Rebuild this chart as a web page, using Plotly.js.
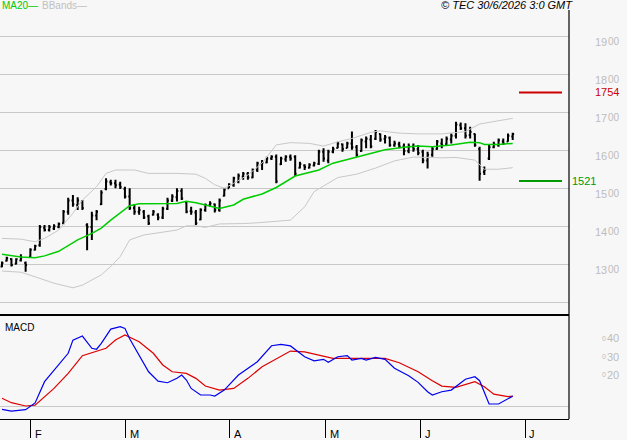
<!DOCTYPE html>
<html><head><meta charset="utf-8">
<script src="https://cdn.plot.ly/plotly-3.0.1.min.js"></script>
<style>html,body{margin:0;padding:0;background:#f7f7f7;}#chart{width:627px;height:440px;}</style>
</head><body><div id="chart"></div>
<script>
// ---- OHLC data (one bar per trading day, index 0..108) ----
var highs = [1309,1322,1318,1318,1328,1309,1344,1353,1405,1405,1405,1407,1412,1445,1477,1484,1478,1471,1410,1440,1445,1497,1528,1524,1524,1519,1506,1502,1460,1453,1445,1432,1445,1436,1453,1477,1486,1502,1502,1467,1453,1445,1449,1462,1468,1462,1475,1502,1515,1532,1541,1545,1545,1554,1572,1576,1585,1589,1591,1585,1589,1591,1589,1572,1565,1568,1572,1603,1607,1603,1611,1624,1620,1624,1651,1616,1633,1638,1642,1655,1646,1642,1638,1627,1624,1620,1620,1620,1616,1603,1598,1611,1629,1633,1638,1646,1677,1675,1673,1664,1646,1611,1559,1616,1624,1633,1633,1646,1648];
var lows  = [1294,1309,1296,1301,1309,1282,1319,1338,1348,1388,1388,1392,1397,1407,1432,1453,1445,1445,1339,1366,1418,1458,1497,1509,1502,1500,1475,1445,1432,1432,1421,1405,1430,1418,1421,1445,1466,1467,1471,1436,1432,1405,1418,1440,1453,1438,1440,1480,1502,1506,1515,1524,1524,1528,1545,1550,1568,1576,1515,1563,1572,1574,1534,1554,1550,1554,1559,1563,1572,1568,1594,1607,1598,1607,1603,1585,1598,1607,1607,1629,1624,1620,1611,1611,1607,1589,1594,1598,1589,1568,1554,1585,1603,1607,1616,1620,1633,1655,1633,1633,1611,1522,1537,1576,1607,1611,1616,1624,1629];
var opens = [1296,1311,1316,1303,1312,1305,1322,1340,1352,1398,1392,1396,1400,1410,1440,1470,1458,1468,1405,1400,1430,1460,1500,1518,1515,1512,1500,1480,1450,1440,1440,1428,1432,1432,1425,1448,1470,1478,1495,1465,1442,1438,1420,1445,1458,1460,1445,1482,1502,1510,1520,1532,1540,1530,1550,1565,1570,1580,1585,1565,1578,1585,1585,1556,1562,1556,1562,1566,1598,1575,1598,1608,1618,1608,1620,1610,1600,1625,1630,1632,1645,1632,1635,1615,1618,1612,1600,1612,1605,1598,1575,1590,1605,1620,1618,1630,1640,1668,1660,1642,1645,1605,1545,1580,1610,1615,1625,1625,1638];
var closes= [1305,1318,1300,1315,1320,1300,1340,1350,1400,1392,1400,1402,1408,1440,1470,1460,1470,1450,1400,1430,1440,1490,1520,1515,1510,1505,1480,1450,1440,1445,1425,1410,1440,1425,1448,1470,1480,1495,1475,1440,1440,1410,1445,1458,1462,1445,1470,1498,1512,1528,1535,1540,1530,1550,1568,1570,1580,1585,1520,1580,1585,1580,1540,1566,1558,1564,1568,1598,1580,1598,1605,1620,1605,1620,1610,1590,1628,1632,1612,1650,1630,1636,1615,1620,1612,1600,1612,1605,1595,1575,1590,1605,1625,1615,1632,1640,1670,1660,1640,1650,1615,1540,1550,1610,1618,1628,1620,1640,1645];

// ---- Moving average 20 (sampled, bar index / value) ----
var maIdx = [0,2,4,7,9,12,14,16,19,21,23,25,27,29,32,37,39,41,43,46,49,51,55,58,62,67,70,74,78,81,85,88,91,95,99,101,102,105,108];
var maVal = [1328,1324,1321,1319,1324,1336,1350,1366,1383,1397,1418,1436,1456,1461,1462,1462,1468,1464,1458,1449,1458,1473,1487,1504,1534,1550,1568,1581,1594,1603,1610,1613,1611,1616,1623,1622,1617,1617,1620];

// ---- Bollinger bands ----
var upIdx = [0,4,7,9,12,15,17,20,22,24,28,31,37,41,43,45,47,49,52,55,58,61,65,68,71,74,78,80,84,88,93,95,98,101,105,108];
var upVal = [1370,1368,1361,1370,1392,1436,1471,1506,1541,1550,1550,1541,1541,1539,1528,1511,1502,1515,1537,1568,1616,1622,1620,1613,1624,1633,1649,1653,1647,1645,1645,1647,1651,1671,1680,1686];
var loIdx = [0,4,7,11,15,17,21,23,25,27,30,37,39,41,43,46,51,54,61,64,66,69,71,75,79,83,87,93,96,100,102,105,108];
var loVal = [1284,1281,1269,1252,1240,1247,1274,1296,1322,1366,1379,1392,1403,1403,1399,1408,1409,1411,1418,1453,1493,1515,1530,1539,1555,1574,1584,1582,1583,1576,1552,1552,1556];

// ---- MACD ----
var macdIdx = [0,2,5,7,9,12,14,15,17,19,20,21,23,25,26,27,29,31,33,35,37,38,39,40,42,44,45,47,50,54,57,59,61,64,66,68,69,71,73,74,76,77,79,81,83,86,88,90,91,93,95,98,100,101,103,105,108];
var macdVal = [-0.015,-0.025,-0.017,0.02,0.136,0.227,0.291,0.363,0.385,0.318,0.313,0.345,0.423,0.436,0.427,0.37,0.281,0.19,0.139,0.13,0.154,0.172,0.145,0.099,0.063,0.063,0.057,0.09,0.172,0.245,0.332,0.34,0.331,0.272,0.25,0.258,0.242,0.272,0.278,0.254,0.263,0.254,0.269,0.258,0.209,0.168,0.132,0.081,0.063,0.081,0.09,0.149,0.163,0.141,0.014,0.014,0.057];
var sigIdx = [0,2,5,7,11,14,17,19,22,24,26,29,32,34,36,39,41,43,46,49,52,55,59,61,64,67,70,74,81,84,88,91,93,96,100,102,104,107,108];
var sigVal = [0.045,0.021,0.003,0.008,0.099,0.181,0.278,0.294,0.318,0.363,0.391,0.354,0.291,0.227,0.19,0.181,0.154,0.112,0.09,0.099,0.154,0.217,0.272,0.303,0.299,0.281,0.263,0.263,0.263,0.239,0.19,0.141,0.112,0.105,0.136,0.108,0.068,0.054,0.057];

// ---- Axis labels / levels ----
var monthIdx = [6.1,26.2,48.2,68.5,88.6,110.6];
var monthLabels = ['F','M','A','M','J','J'];
var priceTicks = [1200,1300,1400,1500,1600,1700,1800,1900];
var priceLabels = [1300,1400,1500,1600,1700,1800,1900];
var macdLabels = [0.40,0.30,0.20];
var resistance = 1754, support = 1521;

var barX = highs.map(function(_, i){ return i; });
var FONT = 'Liberation Sans, Arial, sans-serif';
var W = 569, H = 409;
function py(pix){ return (419 - pix) / H; }

var traces = [
  {type:'scatter', mode:'lines', x:upIdx, y:upVal, line:{color:'#c8c8c8', width:1}, hoverinfo:'skip'},
  {type:'scatter', mode:'lines', x:loIdx, y:loVal, line:{color:'#c8c8c8', width:1}, hoverinfo:'skip'},
  {type:'ohlc', x:barX, open:opens, high:highs, low:lows, close:closes, tickwidth:0.3,
   increasing:{line:{color:'#000000', width:2}}, decreasing:{line:{color:'#000000', width:2}}},
  {type:'scatter', mode:'lines', x:maIdx, y:maVal, line:{color:'#00cc00', width:1.5}},
  {type:'scatter', mode:'lines', x:sigIdx, y:sigVal, yaxis:'y2', line:{color:'#dd0000', width:1.2}},
  {type:'scatter', mode:'lines', x:macdIdx, y:macdVal, yaxis:'y2', line:{color:'#0000ee', width:1.2}}
];

var sepY = (419 - 315) / H;
var shapes = [
  {type:'line', xref:'paper', yref:'paper', x0:0, x1:1, y0:sepY, y1:sepY, line:{color:'#000', width:2}},
  {type:'line', xref:'paper', yref:'paper', x0:1, x1:1, y0:0, y1:1, line:{color:'#000', width:1.2}},
  {type:'line', xref:'paper', yref:'y', x0:519/W, x1:562/W, y0:resistance, y1:resistance, line:{color:'#cc0000', width:2}},
  {type:'line', xref:'paper', yref:'y', x0:519/W, x1:562/W, y0:support, y1:support, line:{color:'#009900', width:2}}
];

var ann = [];
function txt(o){ o.showarrow = false; ann.push(o); }
priceLabels.forEach(function(v){
  var s = String(v);
  txt({xref:'paper', yref:'y', x:593/W, y:v, xanchor:'left', yanchor:'middle', yshift:-5,
    text:s.slice(0,2), font:{family:FONT, size:11, color:'#bdbdbd'}});
  txt({xref:'paper', yref:'y', x:605.5/W, y:v, xanchor:'left', yanchor:'middle', yshift:-4.5,
    text:s.slice(2), font:{family:FONT, size:10, color:'#bdbdbd'}});
});
macdLabels.forEach(function(v){
  txt({xref:'paper', yref:'y2', x:600/W, y:v, xanchor:'left', yanchor:'middle', yshift:-5,
    text:'0', font:{family:FONT, size:7, color:'#bdbdbd'}});
  txt({xref:'paper', yref:'y2', x:605/W, y:v, xanchor:'left', yanchor:'middle', yshift:-5,
    text:String(Math.round(v*100)), font:{family:FONT, size:11, color:'#bdbdbd'}});
});
txt({xref:'paper', yref:'y', x:593/W, y:resistance, xanchor:'left', yanchor:'middle',
  text:String(resistance), font:{family:FONT, size:11, color:'#cc0000'}});
txt({xref:'paper', yref:'y', x:570/W, y:support, xanchor:'left', yanchor:'middle',
  text:String(support), font:{family:FONT, size:11, color:'#009900'}});
monthIdx.forEach(function(m, k){
  txt({xref:'x', yref:'paper', x:m, y:py(434), xanchor:'left', yanchor:'middle', xshift:2,
    text:monthLabels[k], font:{family:FONT, size:11, color:'#000'}});
});
txt({xref:'paper', yref:'paper', x:0, y:py(5), xanchor:'left', yanchor:'middle',
  text:'MA20—', font:{family:FONT, size:10, color:'#00cc00'}});
txt({xref:'paper', yref:'paper', x:40/W, y:py(5), xanchor:'left', yanchor:'middle',
  text:'BBands—', font:{family:FONT, size:10, color:'#c0c0c0'}});
txt({xref:'paper', yref:'paper', x:575/W, y:py(5), xanchor:'right', yanchor:'middle',
  text:'© TEC 30/6/2026 3:0 GMT', font:{family:FONT, size:11, color:'#000', style:'italic'}});
txt({xref:'paper', yref:'paper', x:3/W, y:py(327), xanchor:'left', yanchor:'middle',
  text:'MACD', font:{family:FONT, size:10, color:'#000'}});

var layout = {
  width:627, height:440, margin:{l:0, r:58, t:10, b:21, pad:0},
  paper_bgcolor:'#f7f7f7', plot_bgcolor:'#f7f7f7', showlegend:false,
  font:{family:FONT, size:11},
  xaxis:{range:[-0.42, 119.9], anchor:'y2', showgrid:false, zeroline:false, showline:true, linecolor:'#000', linewidth:1,
    ticks:'outside', ticklen:18, tickwidth:1, tickcolor:'#000', tickvals:monthIdx, showticklabels:false,
    rangeslider:{visible:false}, fixedrange:true},
  yaxis:{domain:[sepY, 1], range:[1168.4, 1971], tickvals:priceTicks, showticklabels:false, ticks:'',
    gridcolor:'#c8c8c8', gridwidth:1, zeroline:false, showline:false, fixedrange:true},
  yaxis2:{domain:[0, sepY], range:[-0.068, 0.5], showgrid:false, zeroline:true, zerolinecolor:'#c8c8c8', zerolinewidth:1,
    showticklabels:false, ticks:'', showline:false, fixedrange:true},
  shapes:shapes, annotations:ann
};
Plotly.newPlot('chart', traces, layout, {staticPlot:true, displayModeBar:false});
</script></body></html>
